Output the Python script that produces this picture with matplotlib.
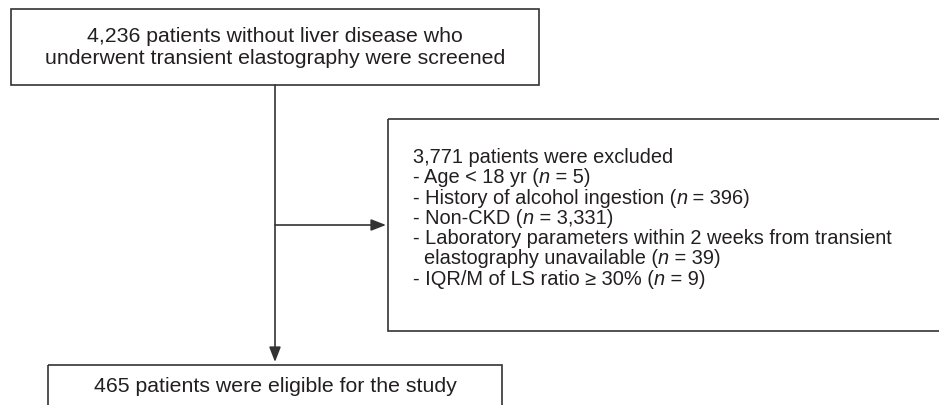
import matplotlib.pyplot as plt
from matplotlib.patches import Rectangle

plt.rcParams['font.family'] = ['Liberation Sans', 'DejaVu Sans']

# flowchart text, {n} marks an italic n
screened_lines = ['4,236 patients without liver disease who',
                  'underwent transient elastography were screened']
excluded_title = '3,771 patients were excluded'
excluded_items = ['- Age < 18 yr ({n} = 5)',
                  '- History of alcohol ingestion ({n} = 396)',
                  '- Non-CKD ({n} = 3,331)',
                  '- Laboratory parameters within 2 weeks from transient',
                  '  elastography unavailable ({n} = 39)',
                  '- IQR/M of LS ratio \u2265 30% ({n} = 9)']
eligible_text = '465 patients were eligible for the study'

LINE = '#333333'
TEXT = '#231f20'
FS = 15.3
FS_EX = 14.4

fig = plt.figure(figsize=(9.39, 4.06), dpi=100)
ax = fig.add_axes([0, 0, 1, 1])
ax.set_xlim(0, 939)
ax.set_ylim(406, 0)
ax.axis('off')

def box(x0, y0, x1, y1):
    ax.add_patch(Rectangle((x0, y0), x1 - x0, y1 - y0, fill=False,
                           edgecolor=LINE, linewidth=1.2, clip_on=True))

def rich_line(x, y, s, fs):
    # chain text pieces so the n can be italic
    chunks = s.split('{n}')
    t = ax.text(x, y, chunks[0], ha='left', va='baseline', fontsize=fs, color=TEXT)
    for c in chunks[1:]:
        t = ax.annotate('n', xy=(1, 0), xycoords=t, ha='left', va='bottom',
                        fontsize=fs, color=TEXT, fontstyle='italic')
        t = ax.annotate(c, xy=(1, 0), xycoords=t, ha='left', va='bottom',
                        fontsize=fs, color=TEXT)

# top box
box(11, 10, 539, 86)
for i, s in enumerate(screened_lines):
    ax.text(275, 36 + i * 22, s, ha='center', va='center', fontsize=FS, color=TEXT)

# exclusion box (runs past right edge)
box(388, 120, 960, 332)
for i, s in enumerate([excluded_title] + excluded_items):
    rich_line(413, 163 + i * 20.3, s, FS_EX)

# bottom box (cut off at bottom)
box(48, 366, 502, 430)
ax.text(275, 387, eligible_text, ha='center', va='center', fontsize=FS, color=TEXT)

# arrows
ax.annotate('', xy=(275, 363), xytext=(275, 86),
            arrowprops=dict(arrowstyle='-|>,head_length=0.9,head_width=0.35',
                            color=LINE, lw=1.2, shrinkA=0, shrinkB=0))
ax.annotate('', xy=(386, 226), xytext=(275, 226),
            arrowprops=dict(arrowstyle='-|>,head_length=0.9,head_width=0.35',
                            color=LINE, lw=1.2, shrinkA=0, shrinkB=0))

fig.savefig('out.png', dpi=100, facecolor='white')
